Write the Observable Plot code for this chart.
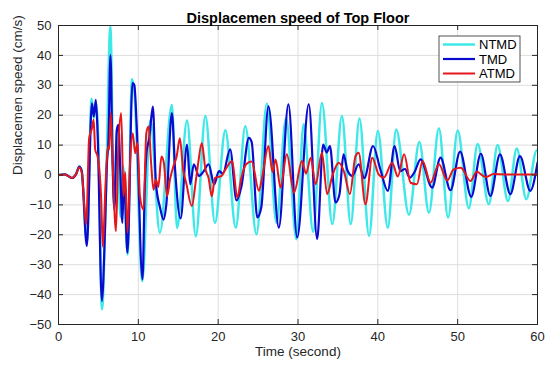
<!DOCTYPE html>
<html><head><meta charset="utf-8">
<script src="https://cdn.jsdelivr.net/npm/d3@7"></script>
<script src="https://cdn.jsdelivr.net/npm/@observablehq/plot@0.6"></script>
<style>body{margin:0;background:#fff}#chart{width:545px;height:365px}</style>
</head><body><div id="chart"></div>
<script>
const title = "Displacemen speed of Top Floor";
const xLabel = "Time (second)";
const yLabel = "Displacemen speed (cm/s)";
const seriesNames = ["NTMD", "TMD", "ATMD"];
const seriesColors = ["#3fe8e8", "#0b0bd0", "#e5161c"];
const seriesWidths = [2.5, 2.2, 2.0];
const xTicks = [0, 10, 20, 30, 40, 50, 60];
const yTicks = [-50, -40, -30, -20, -10, 0, 10, 20, 30, 40, 50];

// [time (s), speed (cm/s)]
const ntmd = [[0,0],[0.8,0.2],[1.7,-1],[2.2,0.3],[2.6,2.8],[2.9,1.5],[3.55,-22.5],[4.15,25.5],[4.42,19],[4.7,24],[5.0,10],[5.45,-44.9],[5.95,-5],[6.5,49.6],[6.95,-10],[7.4,16],[7.75,-14],[8.1,3],[8.65,-26.6],[9.2,32],[9.5,28],[10.5,-35.5],[11.5,18.4],[12.7,-19.3],[14.2,23.4],[14.85,-17.7],[16.1,18.2],[17.2,-20.5],[18.4,19.7],[19.6,-16],[20.9,15],[22.2,-17.6],[23.4,16.3],[24.8,-19.8],[26.1,23.8],[27.3,-16],[28.5,19],[29.8,-21.5],[30.7,17],[31.9,-19],[33.0,24.1],[34.3,-16.4],[35.5,19.7],[36.6,-16.4],[37.7,18.9],[38.9,-20.3],[40.0,14.7],[41.25,-17.6],[42.3,15.2],[43.9,-13.3],[45.2,11],[46.4,-12.6],[47.65,15.6],[48.8,-14.2],[50.0,14.9],[51.4,-11.1],[52.5,10.4],[53.9,-9.8],[55.0,10],[56.3,-8.7],[57.4,8.9],[58.6,-8.1],[59.9,8.2],[60,8.1]];

const tmd = [[0,0],[0.8,0.2],[1.7,-1],[2.2,0.3],[2.6,2.8],[2.9,1.5],[3.55,-23.8],[4.18,24],[4.42,19.6],[4.68,25.1],[4.9,14],[5.43,-42.1],[5.85,-16],[6.05,2.9],[6.26,11.8],[6.51,40.1],[6.76,6.2],[7.0,-11.6],[7.3,15.1],[7.5,16.8],[7.75,0.7],[8.0,-16],[8.2,0],[8.64,-26],[9.27,30.7],[9.5,30.1],[9.8,16.2],[10.52,-34.9],[10.8,-4.9],[11.06,8.4],[11.35,11.8],[11.82,22.9],[12.2,-2.7],[12.73,-11],[13.15,-14.9],[13.5,-10],[14.2,20.7],[14.6,2],[15.3,-14.5],[16.1,10.2],[16.5,-3.1],[16.95,3.6],[17.6,-0.3],[18.2,1.3],[18.8,3.6],[19.5,-3.1],[20.1,1.3],[20.6,0.5],[21.5,8.6],[22.3,-8.5],[22.9,-4],[23.85,12.4],[24.2,11],[24.9,-14.2],[25.4,-10.9],[26.3,23],[27.6,-17.6],[28.8,23.6],[29.9,-20.9],[31.35,23.6],[32.4,-21.4],[33.15,10.2],[33.6,7.5],[34.0,9.7],[34.7,-9.2],[35.2,-6.4],[35.7,6.9],[36.2,1.5],[36.8,-0.3],[37.6,3.6],[38.3,-1],[39.4,9.7],[40.3,2],[41.25,-5.3],[42.1,9.7],[42.8,1.3],[43.4,2],[44.0,-0.9],[44.6,1],[45.35,5.2],[46.8,-4.2],[47.85,5.8],[49.1,-5.1],[50.3,7.8],[51.7,-7.3],[52.9,7.1],[54.1,-7],[55.3,6.9],[56.6,-6.4],[57.8,6.3],[59.1,-5.3],[60,4.1]];

const atmd = [[0,0],[0.8,0.2],[1.7,-1],[2.2,0.3],[2.6,2.5],[2.9,1],[3.47,-16.6],[3.84,12.3],[4.2,15.7],[4.4,18.5],[4.6,8.4],[4.9,6.2],[5.35,-8.2],[5.55,-24],[5.9,-2.7],[6.2,9.6],[6.35,8.5],[6.55,20.7],[6.8,2.9],[7.2,-18.8],[7.5,9.6],[7.85,20.7],[8.15,-7.1],[8.35,1],[8.65,-19.3],[9.0,6.2],[9.3,14],[9.6,7.3],[9.9,10.7],[10.2,-7.1],[10.65,-11.6],[11.0,14],[11.3,16.2],[11.6,4],[11.9,-4.9],[12.2,-1.5],[12.5,-4],[12.9,6.2],[13.2,4],[13.6,-7.1],[14.0,-1],[14.4,3],[14.8,6.2],[15.2,12.3],[15.6,2],[16.0,-2.7],[16.7,-10.4],[17.2,-2],[17.5,4],[17.95,10.7],[18.4,2],[18.8,-1],[19.2,-7.1],[19.6,-1],[20.4,-0.4],[20.9,1.8],[21.75,4.7],[22.4,-7.6],[22.9,-1],[23.5,3.6],[24.2,4.5],[25.1,-5.3],[25.5,-1],[26.3,9.7],[26.8,1],[27.2,5.2],[27.8,-4.2],[28.6,6.9],[29.5,-5.9],[30.5,4.7],[31.0,0.5],[31.6,5.8],[32.2,-3.1],[33.0,7.4],[33.65,-6.4],[34.3,-0.3],[35.1,4.1],[35.8,0.8],[36.5,-6.4],[37.2,6.3],[37.6,7.4],[38.45,-9.8],[39.3,5.8],[40.1,0.2],[40.75,-0.9],[41.8,4.1],[42.5,-0.5],[43.3,6.9],[44.1,-2.6],[44.9,-3.1],[45.6,4.7],[46.6,-2.6],[47.65,3.6],[48.7,-1.8],[49.5,1.9],[50.4,2.4],[51.6,-2],[52.4,1.1],[53.5,-0.7],[54.5,0.3],[56,0.2],[58,0.2],[60,0.2]];

const seriesData = [ntmd, tmd, atmd];

const W = 545, H = 365, mL = 58, mR = 8, mT = 25, mB = 41;
const plotH = H - mT - mB;
const tickLen = 5;
const font = "'Liberation Sans', Arial, Helvetica, sans-serif";
const axisColor = "#262626";

const lineMarks = seriesData.map((data, i) =>
  Plot.line(data.map(([t, v]) => ({t, v, s: seriesNames[i]})), {
    x: "t", y: "v", stroke: "s", strokeWidth: seriesWidths[i],
    curve: "monotone-x", strokeLinejoin: "round", clip: true
  })
);

const chart = Plot.plot({
  width: W, height: H,
  marginLeft: mL, marginRight: mR, marginTop: mT, marginBottom: mB,
  style: {fontFamily: font, fontSize: "13px", color: axisColor, background: "#fff", overflow: "visible"},
  x: {domain: [0, 60], label: null},
  y: {domain: [-50, 50], label: null},
  color: {domain: seriesNames, range: seriesColors},
  marks: [
    Plot.gridX(xTicks, {stroke: "#dedede", strokeOpacity: 1}),
    Plot.gridY(yTicks, {stroke: "#dedede", strokeOpacity: 1}),
    ...lineMarks,
    Plot.frame({stroke: axisColor, strokeWidth: 1}),
    Plot.tickX(xTicks, {x: d => d, stroke: axisColor, insetTop: plotH - tickLen}),
    Plot.tickX(xTicks, {x: d => d, stroke: axisColor, insetBottom: plotH - tickLen}),
    Plot.tickY(yTicks, {y: d => d, stroke: axisColor, insetRight: (W - mL - mR) - tickLen}),
    Plot.tickY(yTicks, {y: d => d, stroke: axisColor, insetLeft: (W - mL - mR) - tickLen}),
    Plot.axisX(xTicks, {anchor: "bottom", tickSize: 0, tickPadding: 7, fontSize: 13, fill: axisColor}),
    Plot.axisY(yTicks, {anchor: "left", tickSize: 0, tickPadding: 7, fontSize: 13, fill: axisColor}),
    Plot.text([xLabel], {frameAnchor: "bottom", dy: 31, fontSize: 13.5, fill: axisColor}),
    Plot.text([yLabel], {frameAnchor: "left", dx: -41, rotate: -90, fontSize: 13.5, fill: axisColor}),
    Plot.text([title], {frameAnchor: "top", dy: -13, fontSize: 14.5, fontWeight: "bold", fill: "#000"})
  ]
});

// MATLAB-style legend box in the upper right of the axes
const svg = d3.select(chart);
const lg = svg.append("g").attr("font-family", font).attr("font-size", 13).attr("text-anchor", "start");
const boxW = 81, boxH = 46, boxX = W - mR - 17 - boxW, boxY = mT + 11;
lg.append("rect").attr("x", boxX).attr("y", boxY).attr("width", boxW).attr("height", boxH)
  .attr("fill", "#fff").attr("stroke", axisColor).attr("stroke-width", 0.8);
seriesNames.forEach((name, i) => {
  const cy = boxY + 8.5 + i * 14.5;
  lg.append("line").attr("x1", boxX + 4).attr("x2", boxX + 36).attr("y1", cy).attr("y2", cy)
    .attr("stroke", seriesColors[i]).attr("stroke-width", seriesWidths[i]);
  lg.append("text").attr("x", boxX + 40).attr("y", cy).attr("dy", "0.35em")
    .attr("text-anchor", "start").attr("fill", "#000").text(name);
});

document.getElementById("chart").appendChild(chart);
</script>
</body></html>
